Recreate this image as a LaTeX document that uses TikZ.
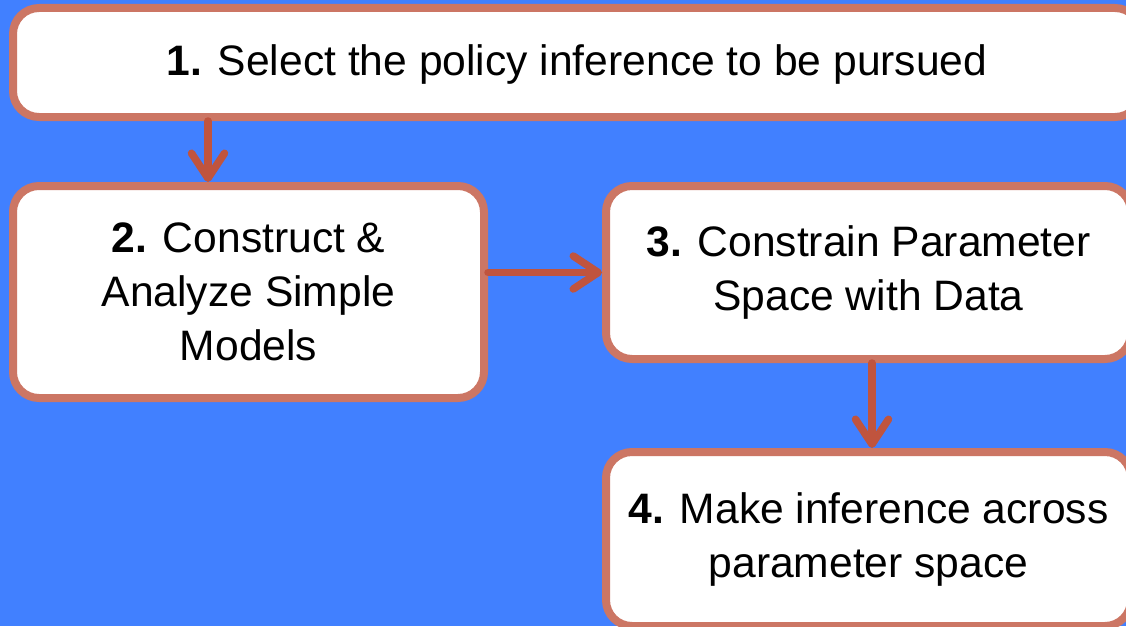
\documentclass[tikz,border=0pt]{standalone}
\usepackage{fontspec}
\setmainfont{Liberation Sans}
\usetikzlibrary{arrows.meta}
\definecolor{bgblue}{RGB}{65,128,255}
\definecolor{boxline}{RGB}{204,118,100}
\definecolor{arrowred}{RGB}{192,84,62}
\begin{document}
\begin{tikzpicture}[x=1pt,y=-1pt,line join=round,line cap=round,
 font=\fontsize{42.6}{54}\selectfont,
 stepbox/.style={draw=boxline,fill=white,line width=8pt,rounded corners=26pt,align=center,inner sep=0pt},
 flow/.style={draw=arrowred,line width=7.5pt,-{Straight Barb[length=25pt,width=33pt,line cap=round,line join=round]}}]
 \clip (0,0) rectangle (1126,626);
 \fill[bgblue] (0,0) rectangle (1126,626);
 \node[stepbox,minimum width=1128pt,minimum height=109pt,text depth=4pt] (s1) at (577,62.5) {\textbf{1.} Select the policy inference to be pursued};
 \node[stepbox,minimum width=471pt,minimum height=212pt] (s2) at (248.5,292) {\textbf{2.} Construct \&\\Analyze Simple\\Models};
 \node[stepbox,minimum width=525pt,minimum height=173pt] (s3) at (868.5,272.5) {\textbf{3.} Constrain Parameter\\Space with Data};
 \node[stepbox,minimum width=525pt,minimum height=174pt] (s4) at (868.5,539) {\textbf{4.} Make inference across\\parameter space};
 \draw[flow] ([xshift=-40.5pt]s2.north |- s1.south) -- ([xshift=-40.5pt]s2.north);
 \draw[flow] (s2.east |- s3.west) -- (s3.west);
 \draw[flow] ([xshift=3.5pt]s3.south) -- ([xshift=3.5pt]s4.north);
\end{tikzpicture}
\end{document}
